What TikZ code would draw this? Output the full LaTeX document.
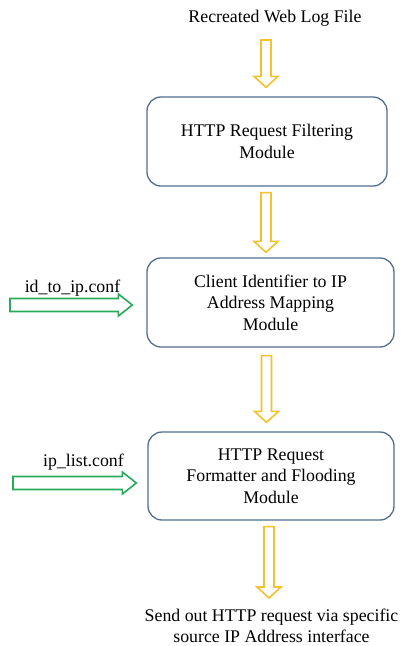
\documentclass[tikz,border=0pt]{standalone}
\usepackage{fontspec}
\setmainfont{Liberation Serif}
\usetikzlibrary{calc}

\definecolor{boxline}{RGB}{82,110,145}
\definecolor{flowyellow}{RGB}{247,192,45}
\definecolor{confgreen}{RGB}{40,170,90}

\tikzset{
  module/.style={draw=boxline, line width=1.3pt, rounded corners=14pt, fill=white,
    align=center, inner sep=0pt},
  plain/.style={align=center, inner sep=0pt},
  yblock/.style={draw=flowyellow, line width=1.6pt, fill=white, line join=miter},
  gblock/.style={draw=confgreen, line width=1.6pt, fill=white, line join=miter}
}

% hollow block arrow pointing down, from #1 (top of shaft) to #2 (tip)
\newcommand\downblock[2]{%
  \draw[yblock] let \p1=(#1), \p2=(#2) in
    (\x1-5pt,\y1) -- (\x1+5pt,\y1) -- (\x1+5pt,\y2+11pt) -- (\x1+12pt,\y2+11pt)
    -- (\x1,\y2) -- (\x1-12pt,\y2+11pt) -- (\x1-5pt,\y2+11pt) -- cycle;}

% hollow block arrow pointing right, from #1 (tail of shaft) to #2 (tip)
\newcommand\rightblock[2]{%
  \draw[gblock] let \p1=(#1), \p2=(#2) in
    (\x1,\y1+6.5pt) -- (\x2-14pt,\y1+6.5pt) -- (\x2-14pt,\y1+11pt) -- (\x2,\y1)
    -- (\x2-14pt,\y1-11pt) -- (\x2-14pt,\y1-6.5pt) -- (\x1,\y1-6.5pt) -- cycle;}

\begin{document}
\begin{tikzpicture}[x=1pt, y=-1pt, font=\fontsize{17.8}{21.5}\selectfont]
  \useasboundingbox[fill=white] (0,0) rectangle (401,646);

  % text and modules
  \node[plain] (title) at (275,18) {Recreated Web Log File};
  \node[module, minimum width=240pt, minimum height=89pt] (b1) at (267,141.5)
    {HTTP Request Filtering\\Module};
  \node[module, minimum width=247pt, minimum height=89pt] (b2) at (270.5,302.5)
    {Client Identifier to IP\\Address Mapping\\Module};
  \node[module, minimum width=246pt, minimum height=88pt] (b3) at (271,476)
    {HTTP Request\\Formatter and Flooding\\Module};
  \node[plain] (out) at (271.5,626)
    {Send out HTTP request via specific\\source IP Address interface};

  \node[plain] (conf1) at (72.5,288) {id\_to\_ip.conf};
  \node[plain] (conf2) at (83.5,462) {ip\_list.conf};

  % arrow ends
  \coordinate (a1s) at (266,40);
  \coordinate (a1e) at ($(b1.north)+(-1,-9)$);
  \coordinate (a2s) at ($(b1.south)+(-1,6)$);
  \coordinate (a2e) at ($(b2.north)+(-4.5,-5)$);
  \coordinate (a3s) at ($(b2.south)+(-4,8)$);
  \coordinate (a3e) at ($(b3.north)+(-4.5,-9)$);
  \coordinate (a4s) at ($(b3.south)+(-2,6)$);
  \coordinate (a4e) at (269,598);

  \coordinate (g1s) at (10,305);
  \coordinate (g1e) at ($(b2.west)+(-14,2.5)$);
  \coordinate (g2s) at (13,483);
  \coordinate (g2e) at ($(b3.west)+(-11,7)$);

  % main flow
  \downblock{a1s}{a1e}
  \downblock{a2s}{a2e}
  \downblock{a3s}{a3e}
  \downblock{a4s}{a4e}

  % configuration inputs
  \rightblock{g1s}{g1e}
  \rightblock{g2s}{g2e}
\end{tikzpicture}
\end{document}
